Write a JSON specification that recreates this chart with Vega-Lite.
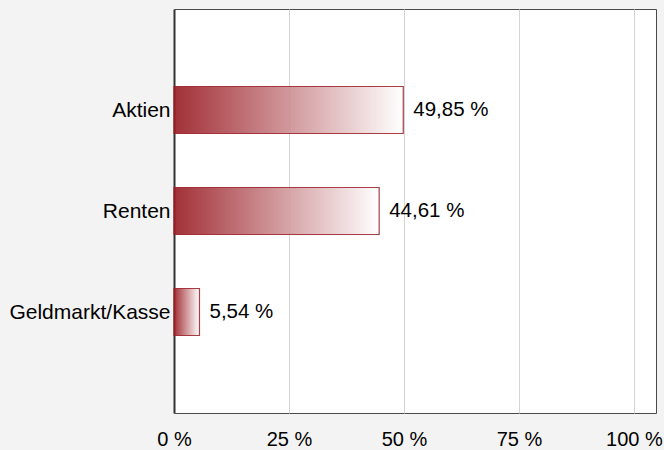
{
  "$schema": "https://vega.github.io/schema/vega-lite/v6.json",
  "width": 482,
  "height": 404,
  "autosize": {"type": "none"},
  "padding": {"left": 174, "top": 9, "right": 8, "bottom": 37},
  "background": "#f3f3f3",
  "config": {
    "locale": {"number": {"decimal": ",", "thousands": ".", "grouping": [3], "currency": ["", " €"]}},
    "font": "Liberation Sans",
    "view": {"fill": "#ffffff", "stroke": "#4a4a4a", "strokeWidth": 1}
  },
  "data": {
    "values": [
      {"kategorie": "Aktien", "anteil": 49.85},
      {"kategorie": "Renten", "anteil": 44.61},
      {"kategorie": "Geldmarkt/Kasse", "anteil": 5.54}
    ]
  },
  "transform": [{"calculate": "format(datum.anteil, '.2f') + ' %'", "as": "label"}],
  "encoding": {
    "y": {
      "field": "kategorie",
      "type": "nominal",
      "sort": null,
      "scale": {"type": "point", "padding": 1},
      "axis": {
        "title": null,
        "ticks": false,
        "labelFontSize": 21,
        "labelColor": "#000000",
        "labelPadding": 4,
        "domainColor": "#333333",
        "domainWidth": 2,
        "grid": false
      }
    },
    "x": {
      "field": "anteil",
      "type": "quantitative",
      "scale": {"domain": [0, 104.8], "nice": false},
      "axis": {
        "title": null,
        "values": [0, 25, 50, 75, 100],
        "labelExpr": "datum.value + ' %'",
        "ticks": false,
        "domain": false,
        "labelFontSize": 20,
        "labelColor": "#000000",
        "labelPadding": 16,
        "labelFlush": false,
        "gridColor": "#d4d4d4",
        "gridWidth": 1
      }
    },
    "x2": {"datum": 0}
  },
  "layer": [
    {
      "mark": {
        "type": "bar",
        "size": 47,
        "fillOpacity": 0.9,
        "stroke": "#9b1c24",
        "strokeOpacity": 0.85,
        "strokeWidth": 1.2,
        "fill": {
          "gradient": "linear",
          "x1": 0, "x2": 1, "y1": 0, "y2": 0,
          "stops": [
            {"offset": 0, "color": "#981a22"},
            {"offset": 1, "color": "#ffffff"}
          ]
        }
      }
    },
    {
      "mark": {"type": "text", "align": "left", "dx": 10, "fontSize": 20.5, "color": "#000000"},
      "encoding": {"text": {"field": "label"}, "x2": null}
    }
  ]
}
